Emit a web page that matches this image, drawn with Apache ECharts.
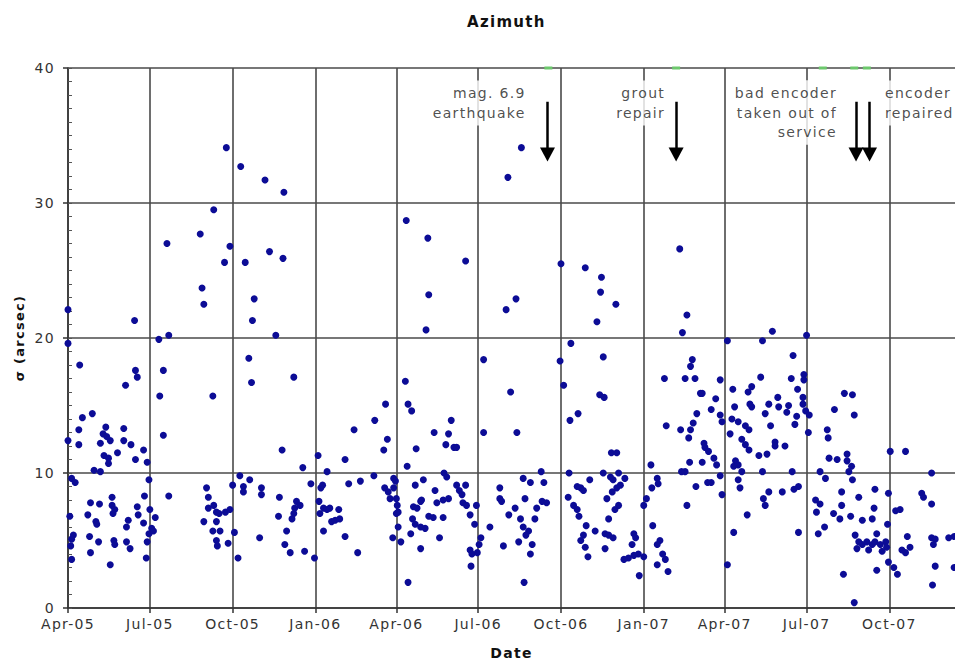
<!DOCTYPE html>
<html><head><meta charset="utf-8">
<script src="https://cdn.jsdelivr.net/npm/echarts@6/dist/echarts.min.js"></script>
<style>
html,body{margin:0;padding:0;background:#fff;}
#chart{width:955px;height:665px;letter-spacing:1.3px;}
</style></head><body>
<div id="chart"></div>
<script>
// ---------------- data ----------------
const startDate = '2005-04-01';
const endDate = '2007-12-13';
const quarterDates = ['2005-04-01','2005-07-01','2005-10-01','2006-01-01','2006-04-01','2006-07-01',
  '2006-10-01','2007-01-01','2007-04-01','2007-07-01','2007-10-01'];
const quarterLabels = ['Apr-05','Jul-05','Oct-05','Jan-06','Apr-06','Jul-06','Oct-06','Jan-07','Apr-07','Jul-07','Oct-07'];

// [days since startDate, sigma (arcsec)]
const sigma2005 = [
 [0,22.1],[74,21.3],[149,23.7],[151,22.5],[207,22.9],[205,21.3],[231,20.2],[112,20.2],[101,19.9],[0,19.6],
 [13,18.0],[75,17.6],[77,17.1],[64,16.5],[106,17.6],[102,15.7],[161,15.7],[201,18.5],[204,16.7],[16,14.1],
 [27,14.4],[12,13.2],[42,13.4],[62,13.3],[0,12.4],[12,12.1],[36,12.2],[47,12.4],[62,12.4],[70,12.1],
 [39,12.9],[43,12.7],[84,11.7],[55,11.5],[40,11.3],[45,11.1],[75,11.0],[88,10.8],[45,10.7],[106,12.8],
 [238,11.7],[29,10.2],[36,10.1],[4,9.6],[8,9.3],[90,9.5],[191,9.8],[202,9.5],[183,9.1],[195,9.0],
 [195,8.6],[215,8.9],[215,8.4],[154,8.9],[156,8.2],[235,8.2],[112,8.3],[25,7.8],[35,7.7],[49,8.2],
 [49,7.6],[52,7.3],[50,7.0],[77,7.5],[78,6.9],[85,8.3],[91,7.3],[97,6.7],[22,6.9],[31,6.4],
 [32,6.2],[67,6.5],[65,6.0],[84,6.3],[93,5.9],[90,5.5],[88,4.9],[95,5.7],[87,3.7],[2,6.8],
 [6,5.4],[4,5.1],[24,5.3],[34,4.9],[51,5.0],[52,4.7],[65,4.9],[69,4.4],[25,4.1],[3,4.6],
 [4,3.6],[47,3.2],[151,6.4],[156,7.4],[162,7.6],[165,7.1],[168,7.0],[175,7.1],[180,7.3],[165,6.4],
 [161,5.7],[169,5.7],[165,5.0],[166,4.6],[178,4.8],[185,5.6],[189,3.7],[213,5.2],[234,6.8],[241,4.7],
 [243,5.7],
 [176,34.1],[192,32.7],[219,31.7],[240,30.8],[162,29.5],[147,27.7],[110,27.0],[180,26.8],[174,25.6],[197,25.6],
 [224,26.4],[239,25.9]
];
const sigma2006 = [
 [281,8.9],[283,9.1],[270,9.2],[288,10.1],[279,7.9],[280,7.0],[284,7.4],[288,7.3],[291,7.4],[293,6.4],
 [297,6.5],[301,7.3],[302,6.6],[284,5.7],[308,5.3],[322,4.1],[274,3.7],[312,9.2],[325,9.4],[340,9.8],
 [352,8.9],[356,8.6],[358,8.1],[362,9.6],[364,9.4],[362,8.9],[365,8.1],[366,7.6],[365,7.0],[367,7.1],
 [367,6.0],[361,5.2],[370,4.9],[378,1.9],[384,7.5],[386,9.1],[395,9.5],[393,8.0],[388,7.4],[392,7.9],
 [383,6.6],[386,6.2],[392,6.0],[397,5.9],[381,5.5],[392,4.4],[401,6.8],[406,6.7],[408,8.7],[417,6.7],
 [413,5.2],[410,7.8],[417,8.0],[423,8.1],[418,10.0],[421,9.7],[432,9.1],[435,8.7],[438,8.4],[442,9.1],
 [439,7.8],[443,7.6],[447,6.9],[454,7.6],[452,6.2],[459,5.2],[457,4.7],[455,4.1],[447,4.3],[449,4.0],
 [448,3.1],[469,6.0],[480,8.9],[480,8.1],[482,7.9],[490,6.9],[484,4.6],[254,7.9],[252,7.4],[258,7.6],
 [251,7.0],[249,6.6],[247,4.1],[263,4.2],
 [401,23.2],[398,20.6],[487,22.1],[251,17.1],[261,10.4],[278,11.3],[308,11.0],[318,13.2],[341,13.9],[353,15.1],
 [355,12.5],[351,11.7],[375,16.8],[378,15.1],[382,14.6],[387,11.8],[377,10.5],[407,13.0],[426,13.9],[423,12.9],
 [420,12.1],[429,11.9],[432,11.9],[462,13.0],[462,18.4],[492,16.0],
 [376,28.7],[400,27.4],[442,25.7],[504,34.1],[489,31.9]
];
const sigmaLate2006 = [
 [592,23.4],[609,22.5],[588,21.2],[498,22.9],[559,19.6],[547,18.3],[595,18.6],[551,16.5],[591,15.8],[596,15.6],
 [499,13.0],[567,14.4],[558,13.9],[599,8.1],[605,8.6],[610,8.9],[614,9.1],[619,9.6],[612,10.0],[606,9.5],
 [604,11.5],[610,11.5],[595,10.0],[603,9.7],[608,7.3],[612,7.6],[601,6.6],[597,5.5],[601,5.4],[606,5.2],
 [597,4.4],[586,5.7],[576,6.1],[580,9.5],[570,8.9],[566,9.0],[573,8.7],[556,8.2],[562,7.6],[566,7.3],
 [568,6.8],[573,5.4],[570,5.0],[575,4.5],[578,3.8],[557,10.0],[526,10.1],[506,9.6],[514,9.3],[529,9.3],
 [527,7.9],[532,7.8],[521,7.4],[519,6.6],[508,8.1],[497,7.4],[503,6.6],[506,6.0],[512,5.7],[509,5.4],
 [516,4.7],[514,4.0],[501,4.9],[507,1.9],
 [548,25.5],[575,25.2],[593,24.5]
];
const sigma2007 = [
 [688,21.7],[683,20.4],[663,17.0],[686,17.0],[697,17.0],[694,18.4],[692,17.9],[725,16.9],[703,15.9],[705,15.9],
 [720,15.5],[715,14.7],[699,14.4],[695,13.7],[725,14.3],[727,13.8],[665,13.5],[681,13.2],[692,13.2],[690,12.6],
 [707,12.2],[708,11.9],[712,11.6],[705,10.8],[691,10.8],[686,10.1],[682,10.1],[718,11.1],[721,10.6],[725,9.8],
 [715,9.3],[711,9.3],[698,9.0],[727,8.4],[688,7.6],[648,10.6],[655,9.6],[656,9.2],[649,8.9],[643,8.1],
 [640,7.6],[650,6.1],[658,5.0],[655,4.7],[661,4.0],[664,3.6],[667,2.7],[655,3.2],[629,5.5],[631,5.2],
 [627,4.7],[634,4.0],[629,3.9],[623,3.7],[618,3.6],[640,3.8],[635,2.4],[733,3.2],[733,19.8],[680,26.6],
 [783,20.5],[772,19.8],[821,20.2],[806,18.7],[804,17.0],[818,17.3],[818,16.9],[811,16.2],[817,15.6],[817,15.1],
 [820,14.6],[824,14.3],[810,14.2],[808,13.6],[823,13.0],[801,15.0],[799,14.5],[790,14.9],[789,15.6],[779,15.1],
 [775,14.4],[781,13.5],[770,17.1],[760,16.4],[756,16.0],[758,15.1],[760,14.9],[739,16.2],[741,14.9],[738,14.0],
 [745,13.8],[753,13.5],[757,13.2],[736,12.9],[749,12.5],[753,12.1],[757,11.7],[768,11.3],[777,11.4],[786,12.3],
 [786,12.0],[797,12.0],[742,10.9],[745,10.6],[740,10.5],[749,10.1],[772,10.1],[745,9.5],[747,8.9],[779,8.6],
 [773,8.1],[775,7.6],[794,8.6],[807,8.8],[812,9.0],[805,10.1],[755,6.9],[740,5.6],[812,5.6],
 [844,13.2],[845,12.6],[863,15.9],[872,15.8],[852,14.7],[874,14.3],[846,11.1],[855,11.0],[866,11.4],[866,10.9],
 [871,10.5],[868,10.1],[872,9.5],[836,10.1],[842,9.6],[860,8.6],[831,8.0],[836,7.7],[832,7.1],[860,7.6],
 [851,7.0],[858,6.6],[870,6.8],[879,8.2],[883,6.5],[894,6.6],[897,8.8],[896,7.4],[912,8.5],[911,6.2],
 [920,7.2],[925,7.3],[914,11.6],[931,11.6],[841,6.0],[834,5.5],[862,2.5],[874,0.4],[875,5.4],[879,4.9],
 [877,4.4],[883,4.7],[888,4.9],[890,4.3],[894,4.7],[897,4.9],[899,5.5],[903,4.7],[905,4.2],[909,4.9],
 [910,4.5],[899,2.8],[912,3.4],[918,3.0],[922,2.5],[931,4.1],[933,5.3],[936,4.5],[927,4.3],[949,8.5],
 [951,8.2],[960,7.7],[960,10.0],[960,5.2],[964,5.1],[962,4.7],[964,3.1],[961,1.7],[979,5.2],[985,5.3],
 [985,3.0]
];

// off-scale flags at the top of the axis
const flagDays = [534, 676, 839, 874, 888];
const flagValue = 40;

// event arrows and notes
const eventDays = [533, 676, 876, 891];
const eventFrom = 37.5;
const eventTo = 33.6;
const noteDays = [511, 666, 857, 906];
const noteValues = [37.4, 37.4, 36.7, 37.4];
const noteTexts = ['mag. 6.9\nearthquake', 'grout\nrepair', 'bad encoder\ntaken out of\nservice', 'encoder\nrepaired'];

// ---------------- chart ----------------
const DAY = 86400000;
const t0 = Date.parse(startDate + 'T00:00:00Z');
const tEnd = Date.parse(endDate + 'T00:00:00Z');
const tOf = d => t0 + d * DAY;
const quarterTimes = quarterDates.map(s => Date.parse(s + 'T00:00:00Z'));
const allSigma = sigma2005.concat(sigma2006, sigmaLate2006, sigma2007);
const noteAlign = ['right', 'right', 'right', 'left'];

const chart = echarts.init(document.getElementById('chart'), null, {renderer: 'svg'});
chart.setOption({
  animation: false,
  backgroundColor: '#fff',
  textStyle: {fontFamily: 'DejaVu Sans'},
  title: {
    text: 'Azimuth', left: 462, top: 9,
    textStyle: {fontSize: 15, fontWeight: 'bold', color: '#111', fontFamily: 'DejaVu Sans'}
  },
  grid: {left: 68, right: 0, top: 68, bottom: 55, containLabel: false},
  xAxis: {
    type: 'value', min: t0, max: tEnd, scale: true,
    name: 'Date', nameLocation: 'middle', nameGap: 38,
    nameTextStyle: {fontWeight: 'bold', fontSize: 14, color: '#111'},
    axisLine: {show: true, onZero: false, lineStyle: {color: '#333', width: 1.5}},
    axisTick: {show: true, customValues: quarterTimes, length: 5, lineStyle: {color: '#333', width: 1.5}},
    axisLabel: {
      customValues: quarterTimes, color: '#333', fontSize: 14, margin: 9,
      formatter: v => {
        let best = 0;
        quarterTimes.forEach((q, i) => { if (Math.abs(q - v) < Math.abs(quarterTimes[best] - v)) best = i; });
        return quarterLabels[best];
      }
    },
    splitLine: {show: true, lineStyle: {color: '#4a4a4a', width: 1.6}}
  },
  yAxis: [{
    type: 'value', min: 0, max: 40, interval: 10, position: 'left',
    name: 'σ (arcsec)', nameLocation: 'middle', nameGap: 40, nameRotate: 90,
    nameTextStyle: {fontWeight: 'bold', fontSize: 13, color: '#111'},
    axisLine: {show: true, lineStyle: {color: '#333', width: 1.5}},
    axisTick: {show: true, length: 5, lineStyle: {color: '#333', width: 1.5}},
    axisLabel: {color: '#333', fontSize: 14, margin: 13},
    splitLine: {show: true, lineStyle: {color: '#4a4a4a', width: 1.6}}
  }, {
    type: 'value', min: 0, max: 40, interval: 1, position: 'left',
    axisLine: {show: false},
    axisTick: {show: true, inside: true, length: 4, lineStyle: {color: '#555'}},
    axisLabel: {show: false},
    splitLine: {show: false}
  }],
  series: [{
    name: 'sigma', type: 'scatter', z: 3,
    symbol: 'circle', symbolSize: 7,
    itemStyle: {color: '#0c0c96', opacity: 1},
    data: allSigma.map(p => [tOf(p[0]), p[1]])
  }, {
    name: 'flags', type: 'scatter', z: 4, clip: false,
    symbol: 'rect', symbolSize: [8, 3],
    itemStyle: {color: '#6cc86c', opacity: 1},
    data: flagDays.map(d => [tOf(d), flagValue])
  }, {
    name: 'notes', type: 'scatter', z: 5, clip: false,
    symbolSize: 0, silent: true,
    data: noteDays.map((d, i) => ({
      value: [tOf(d), noteValues[i]],
      label: {align: noteAlign[i]}
    })),
    label: {
      show: true, position: 'inside', verticalAlign: 'middle',
      formatter: p => noteTexts[p.dataIndex],
      fontSize: 14, lineHeight: 19.5, color: '#222',
      backgroundColor: '#fff', padding: [3, 2]
    },
    markLine: {
      silent: true, symbol: ['none', 'triangle'], symbolSize: [15, 14],
      label: {show: false},
      lineStyle: {color: '#000', width: 2.5, type: 'solid'},
      emphasis: {disabled: true},
      data: eventDays.map(d => [{coord: [tOf(d), eventFrom]}, {coord: [tOf(d), eventTo]}])
    }
  }]
});
</script>
</body></html>
